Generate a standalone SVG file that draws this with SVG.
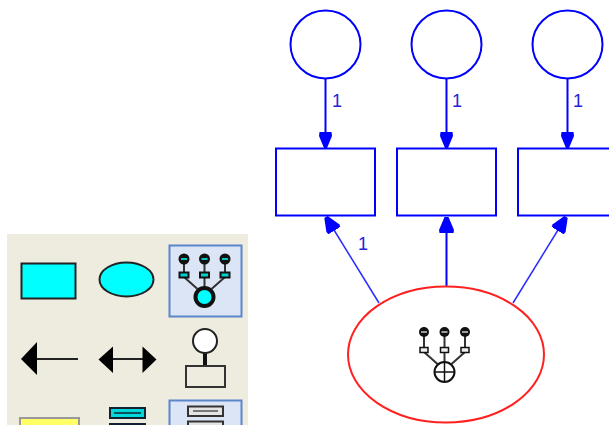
<svg xmlns="http://www.w3.org/2000/svg" width="609" height="425" viewBox="0 0 609 425">
<style>
.b{fill:#fff;stroke:#0000ff;stroke-width:2}
.c{fill:none;stroke:#0000ff;stroke-width:2}
.d{fill:none;stroke:#2a2aff;stroke-width:1.500}
.l{font:18px "Liberation Sans",Arial,sans-serif;fill:#2222dd}
.sel{fill:#dce5f5;stroke:#5b86cc;stroke-width:2}
.dot{fill:#111}
.dash{stroke:#00ffff;stroke-width:1.500}
.tile{fill:#00d0d0;stroke:#111;stroke-width:2}
.box{fill:#eee;stroke:#111;stroke-width:1.500}
</style>
<defs>
<marker id="a" markerUnits="userSpaceOnUse" markerWidth="18" markerHeight="18" refX="16" refY="8" orient="auto"><path d="M0 2L4 1.500L16 6.500V9.500L4 14.500L0 14Z" fill="#0000ff"/></marker>
<marker id="u" markerUnits="userSpaceOnUse" markerWidth="20" markerHeight="20" refX="16" refY="9" orient="auto"><path d="M0 2L3 1.500L16 7V11L3 16.500L0 16Z" fill="#0000ff"/></marker>
<g id="tree">
<path d="M-20.500-38V-22M0-38V-8M20.500-38V-22M-20.500-20L-7-8M20.500-20L7-8" fill="none" stroke="#333" stroke-width="2"/>
</g>
</defs>
<rect id="palette" x="7" y="234" width="241" height="191" fill="#eeebdf"/>
<g id="tool-rect"><rect x="21.500" y="263.500" width="54" height="35" fill="#00ffff" stroke="#222" stroke-width="2"/></g>
<g id="tool-ellipse"><ellipse cx="126.500" cy="279.500" rx="27" ry="17" fill="#00ffff" stroke="#222" stroke-width="2"/></g>
<g id="tool-indicator">
<rect class="sel" x="169.500" y="245.500" width="72" height="71"/>
<use href="#tree" x="204.500" y="297"/>
<circle class="dot" cx="184" cy="259" r="5.500"/><circle class="dot" cx="204.500" cy="259" r="5.500"/><circle class="dot" cx="225" cy="259" r="5.500"/>
<path class="dash" d="M181 259H187M201.500 259H207.500M222 259H228"/>
<rect class="tile" x="179.500" y="272.500" width="9" height="5"/><rect class="tile" x="200" y="272.500" width="9" height="5"/><rect class="tile" x="220.500" y="272.500" width="9" height="5"/>
<circle cx="204.500" cy="297" r="9" fill="#00ffff" stroke="#111" stroke-width="4"/>
</g>
<g id="tool-path"><path d="M37 359H78" stroke="#222" stroke-width="2"/><path d="M21 359L37 342V375Z" fill="#000"/></g>
<g id="tool-cov"><path d="M112 359H143" stroke="#222" stroke-width="2"/><path d="M98.500 359.500L113 346.500V373Z M156.500 359.500L142.500 346.500V373Z" fill="#000"/></g>
<g id="tool-unique"><path d="M205 353V366" stroke="#111" stroke-width="4"/><circle cx="205" cy="341" r="12" fill="#fff" stroke="#222" stroke-width="2"/><rect x="186" y="366" width="39" height="21" fill="none" stroke="#333" stroke-width="2"/></g>
<g id="tool-title"><rect x="20" y="418" width="59" height="10" fill="#ffff66" stroke="#999" stroke-width="2"/></g>
<g id="tool-list">
<rect x="110" y="408" width="35" height="10" fill="#00d8d8" stroke="#123" stroke-width="2"/><path d="M114 413H141" stroke="#123" stroke-width="1.500"/>
<rect x="110" y="424" width="35" height="6" fill="#00d8d8" stroke="#123" stroke-width="2"/>
</g>
<g id="tool-list2">
<rect class="sel" x="169.500" y="400.500" width="72" height="30"/>
<rect x="188" y="406.500" width="35" height="9.500" fill="#e4e4e4" stroke="#333" stroke-width="2"/><path d="M193 411H218" stroke="#555" stroke-width="1.500"/>
<rect x="188" y="421.500" width="35" height="9" fill="#e4e4e4" stroke="#333" stroke-width="2"/>
</g>
<g id="connectors">
<path class="c" d="M325.500 78V148" marker-end="url(#a)"/>
<path class="c" d="M446.500 78V148" marker-end="url(#a)"/>
<path class="c" d="M567.500 78V148" marker-end="url(#a)"/>
<path class="d" d="M379 303L326 217" marker-end="url(#u)"/>
<path class="c" d="M446.500 286V217" marker-end="url(#u)"/>
<path class="d" d="M513 303L566 217" marker-end="url(#u)"/>
<text class="l" x="332" y="107">1</text>
<text class="l" x="452" y="107">1</text>
<text class="l" x="573" y="107">1</text>
<text class="l" x="358" y="250">1</text>
</g>
<g id="circle1"><ellipse class="b" cx="325.500" cy="44.500" rx="35" ry="34"/></g>
<g id="circle2"><ellipse class="b" cx="446.500" cy="44.500" rx="35" ry="34"/></g>
<g id="circle3"><ellipse class="b" cx="567.500" cy="44.500" rx="35" ry="34"/></g>
<g id="box1"><rect class="b" x="276" y="148.500" width="99" height="67"/></g>
<g id="box2"><rect class="b" x="397" y="148.500" width="99" height="67"/></g>
<g id="box3"><rect class="b" x="518" y="148.500" width="99" height="67"/></g>
<g id="latent">
<ellipse cx="446" cy="354.500" rx="98" ry="68" fill="#fff" stroke="#ff2020" stroke-width="2"/>
<use href="#tree" x="444.500" y="372"/>
<circle class="dot" cx="424" cy="332" r="5"/><circle class="dot" cx="444.500" cy="332" r="5"/><circle class="dot" cx="465" cy="332" r="5"/>
<path d="M421 332H427M441.500 332H447.500M462 332H468" stroke="#ccc" stroke-width="1.500"/>
<rect class="box" x="420" y="347.500" width="8" height="5"/><rect class="box" x="440.500" y="347.500" width="8" height="5"/><rect class="box" x="461" y="347.500" width="8" height="5"/>
<circle cx="444.500" cy="372" r="10" fill="#fff" stroke="#111" stroke-width="2"/>
<path d="M444.500 362V382M434.500 372H454.500" stroke="#111" stroke-width="1.500"/>
</g>
</svg>
